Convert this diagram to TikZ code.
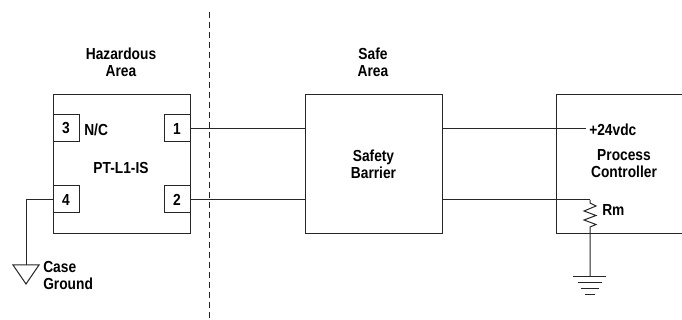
\documentclass[tikz,border=0pt]{standalone}
\usepackage{fontspec}
\setmainfont[FakeStretch=0.86]{Liberation Sans}
\tikzset{
  wire/.style={draw=black!85, line width=0.75pt},
  unitbox/.style={wire, rectangle, minimum width=102.75pt, minimum height=104.25pt, inner sep=0pt},
  pinbox/.style={wire, rectangle, minimum width=19.5pt, minimum height=20.25pt, inner sep=0pt, font=\fontsize{12}{12.75}\selectfont\bfseries},
  lbl/.style={inner sep=0pt, align=center, font=\fontsize{12}{12.75}\selectfont\bfseries},
  lbll/.style={lbl, align=left, anchor=west}
}
\begin{document}
\begin{tikzpicture}[x=0.75pt,y=-0.75pt]
  \useasboundingbox (0,0) rectangle (682,320);

  % boxes
  \node[unitbox] (sensor) at (121.5,164.5) {};
  \node[unitbox] (barrier) at (373.5,164.5) {};
  \draw[wire] (682,95) -- (556,95) -- (556,234) -- (682,234);% controller runs off the page

  % pins
  \node[pinbox] (pinC) at (66,128.5) {3};
  \node[pinbox] (pinA) at (177,128.5) {1};
  \node[pinbox] (pinD) at (66,199.5) {4};
  \node[pinbox] (pinB) at (177,199.5) {2};

  % area divider
  \coordinate (divTop) at (209,12);
  \coordinate (divBot) at (209,320);
  \draw[wire, dash pattern=on 4.5pt off 3pt] (divTop) -- (divBot);

  % wiring
  \coordinate (supply) at (586,129);
  \coordinate (resTop) at (590,200);
  \coordinate (resBot) at (590,229);
  \coordinate (earthTop) at (590,277);
  \coordinate (caseCorner) at (26,200);
  \coordinate (caseTop) at (26,265);
  \draw[wire] (pinA.east |- 0,129) -- (barrier.west |- 0,129);
  \draw[wire] (pinB.east |- 0,200) -- (barrier.west |- 0,200);
  \draw[wire] (barrier.east |- supply) -- (supply);
  \draw[wire] (barrier.east |- resTop) -- (resTop);
  \draw[wire] (pinD.west |- caseCorner) -- (caseCorner) -- (caseTop);

  % case ground
  \draw[wire] (13,265) -- (39,265) -- (26,284) -- cycle;

  % resistor
  \draw[wire] (resTop) -- (590,203) -- (596,206) -- (584,211) -- (596,215.5) -- (584,220) -- (596,224.5) -- (590,227) -- (resBot) -- (earthTop);

  % earth
  \draw[wire] (573,277) -- (606,277);
  \draw[wire] (578,282.5) -- (602,282.5);
  \draw[wire] (581,288.5) -- (599,288.5);
  \draw[wire] (585,295) -- (595,295);

  % labels
  \node[lbl] (hazLbl) at (121,62.5) {Hazardous\\Area};
  \node[lbl] (safeLbl) at (373,62.5) {Safe\\Area};
  \node[lbl] (partLbl) at (121,168) {PT-L1-IS};
  \node[lbl] (barrierLbl) at (barrier.center) {Safety\\Barrier};
  \node[lbl] (ctrlLbl) at (624,164) {Process\\Controller};
  \node[lbll] (ncLbl) at (84,130) {N/C};
  \node[lbll] (vdcLbl) at (589,130) {+24vdc};
  \node[lbll] (rmLbl) at (602,210) {Rm};
  \node[lbll] (caseLbl) at (43,275) {Case\\Ground};
\end{tikzpicture}
\end{document}
